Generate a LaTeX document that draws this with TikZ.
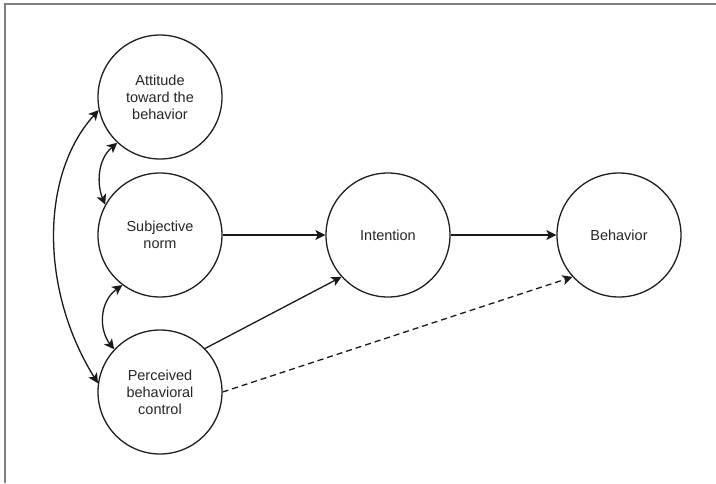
\documentclass[tikz,border=0pt]{standalone}
\usepackage{fontspec}
\setmainfont{Liberation Sans}
\usetikzlibrary{arrows.meta}
\begin{document}
\begin{tikzpicture}[x=1pt,y=-1pt,
  construct/.style={circle,draw=black!88,line width=1.3pt,minimum size=124pt,inner sep=0pt,
    align=center,font=\fontsize{14.5}{17}\selectfont,text=black!85},
  tip/.tip={Stealth[length=10pt,width=10pt,inset=2.5pt]},
  link/.style={draw=black!90,line width=1.3pt,-tip},
  duallink/.style={link,tip-tip},
  framerule/.style={draw=black!50,line width=1.5pt}]
\useasboundingbox (0,0) rectangle (716,483);
\draw[framerule] (5,483) -- (5,4) -- (716,4);
\node[construct] (att) at (160,97) {Attitude\\toward the\\behavior};
\node[construct] (sub) at (160,235) {Subjective\\norm};
\node[construct] (per) at (160,392) {Perceived\\behavioral\\control};
\node[construct] (int) at (388,235) {Intention};
\node[construct] (beh) at (619,235) {Behavior};
\draw[link] (sub) -- (int);
\draw[link] (int) -- (beh);
\draw[link] (per.44) -- (int.222);
\draw[link,dash pattern=on 6pt off 4pt] (per.east) -- (beh.222);
\draw[duallink] (att.227) .. controls (97,160) and (97,185) .. (sub.151);
\draw[duallink] (sub.233) .. controls (99,302) and (99,330) .. (per.137);
\draw[duallink] (att.192) .. controls (40,175) and (40,290) .. (per.172);
\end{tikzpicture}
\end{document}
